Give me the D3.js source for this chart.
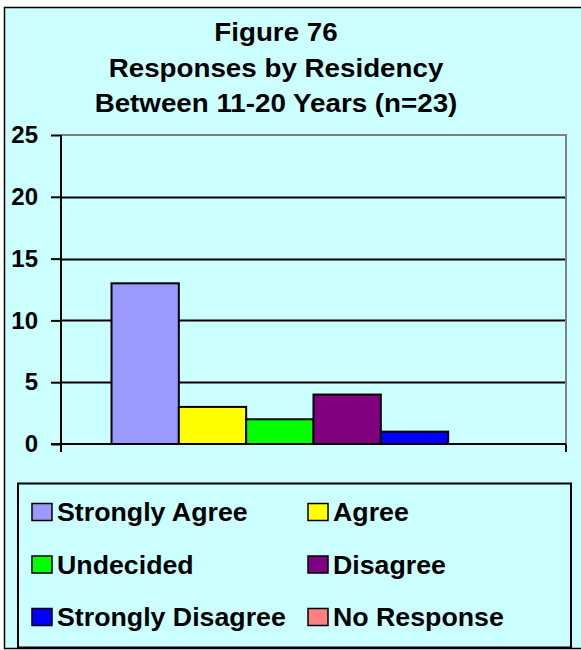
<!DOCTYPE html>
<html>
<head>
<meta charset="utf-8">
<script src="https://cdn.jsdelivr.net/npm/d3@7"></script>
<style>
  html, body { margin: 0; padding: 0; background: #ffffff; }
  svg { display: block; }
  text { font-family: Arial, "Liberation Sans", sans-serif; font-weight: bold; fill: #000; }
</style>
</head>
<body>
<svg id="chart" width="581" height="650"></svg>
<script>
const titleLines = ["Figure 76", "Responses by Residency", "Between 11-20 Years (n=23)"];
const categories = ["Between 11-20 Years"];
const seriesNames = ["Strongly Agree", "Agree", "Undecided", "Disagree", "Strongly Disagree", "No Response"];
const seriesValues = [13, 3, 2, 4, 1, 0];
const seriesColors = ["#9999FF", "#FFFF00", "#00FF00", "#800080", "#0000FF", "#FF8080"];
const yTicks = [0, 5, 10, 15, 20, 25];

const svg = d3.select("#chart");

// chart background and border
svg.append("rect").attr("x", 4.5).attr("y", 7.5).attr("width", 580).attr("height", 641)
  .attr("fill", "#CCFFFF").attr("stroke", "#000").attr("stroke-width", 1.5);

// title
svg.append("g").selectAll("text").data(titleLines).join("text")
  .attr("transform", (d, i) => `translate(276,${41 + i * 35.5}) scale(1.11,1)`)
  .attr("text-anchor", "middle").attr("font-size", 25).text(d => d);

const plot = { left: 61, right: 566, top: 135, bottom: 444 };

const y = d3.scaleLinear().domain([0, 25]).range([plot.bottom, plot.top]);
const x0 = d3.scaleBand().domain(categories).range([plot.left, plot.right]).padding(0);
const groupW = x0.bandwidth() * 0.8;
const x1 = d3.scaleBand().domain(seriesNames)
  .range([(x0.bandwidth() - groupW) / 2, (x0.bandwidth() + groupW) / 2]).padding(0);

// gridlines
svg.append("g").selectAll("line").data(yTicks.filter(t => t > 0 && t < 25)).join("line")
  .attr("x1", plot.left).attr("x2", plot.right)
  .attr("y1", d => Math.round(y(d)) + 0.5).attr("y2", d => Math.round(y(d)) + 0.5)
  .attr("stroke", "#000").attr("stroke-width", 2);

// plot area border top/right (gray)
svg.append("path")
  .attr("d", `M${plot.left},${y(25)}H${plot.right}V${plot.bottom}`)
  .attr("fill", "none").attr("stroke", "#808080").attr("stroke-width", 2);

// bars
const g = svg.append("g").selectAll("g").data(categories).join("g")
  .attr("transform", d => `translate(${x0(d)},0)`);
g.selectAll("rect").data(seriesNames.map((s, i) => ({ s, v: seriesValues[i], c: seriesColors[i] })))
  .join("rect")
  .filter(d => d.v > 0)
  .attr("x", d => x1(d.s)).attr("width", x1.bandwidth())
  .attr("y", d => y(d.v)).attr("height", d => y(0) - y(d.v))
  .attr("fill", d => d.c).attr("stroke", "#000").attr("stroke-width", 2);

// y axis
const yAxis = d3.axisLeft(y).tickValues(yTicks).tickSize(10).tickPadding(13);
const ya = svg.append("g").attr("transform", `translate(${plot.left},0)`).call(yAxis);
ya.select(".domain").attr("stroke", "#000").attr("stroke-width", 2)
  .attr("d", `M0,${plot.top}V${plot.bottom + 8}`);
ya.selectAll(".tick line").attr("stroke", "#000").attr("stroke-width", 2);
ya.selectAll(".tick text").attr("font-size", 24).attr("font-family", "Arial, 'Liberation Sans', sans-serif")
  .attr("font-weight", "bold").attr("fill", "#000");

// x axis
const xa = svg.append("g");
xa.append("line").attr("x1", plot.left - 10).attr("x2", plot.right)
  .attr("y1", plot.bottom).attr("y2", plot.bottom).attr("stroke", "#000").attr("stroke-width", 2);
xa.selectAll("line.xt").data([plot.left, plot.right]).join("line").attr("class", "xt")
  .attr("x1", d => d).attr("x2", d => d).attr("y1", plot.bottom).attr("y2", plot.bottom + 8)
  .attr("stroke", "#000").attr("stroke-width", 2);

// legend
const leg = svg.append("g");
leg.append("rect").attr("x", 18).attr("y", 483.5).attr("width", 553).attr("height", 164)
  .attr("fill", "#CCFFFF").attr("stroke", "#000").attr("stroke-width", 2);
const items = leg.selectAll("g.item").data(seriesNames).join("g").attr("class", "item")
  .attr("transform", (d, i) => `translate(${i % 2 === 0 ? 32 : 308},${512 + Math.floor(i / 2) * 52.5})`);
items.append("rect").attr("x", 0).attr("y", -8.5).attr("width", 20).attr("height", 17)
  .attr("fill", (d, i) => seriesColors[i]).attr("stroke", "#000").attr("stroke-width", 1.5);
items.append("text").attr("transform", "translate(25,0) scale(1.07,1)").attr("dy", "0.36em")
  .attr("font-size", 25).text(d => d);
</script>
</body>
</html>
